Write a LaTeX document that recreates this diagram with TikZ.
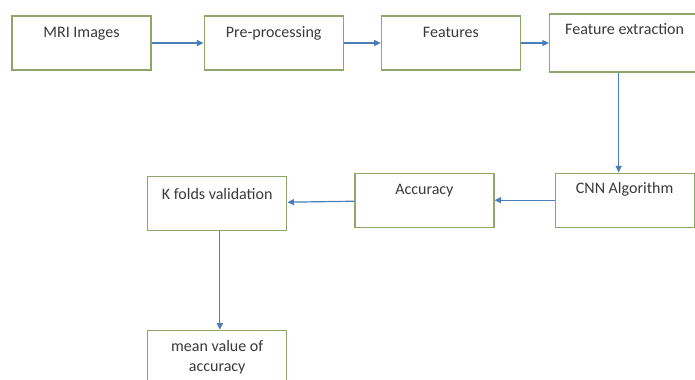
\documentclass[tikz,border=0pt]{standalone}
\usepackage{fontspec}
\setmainfont{Carlito}
\usetikzlibrary{positioning, arrows.meta}

\definecolor{boxline}{HTML}{8FA66A}
\definecolor{arrowblue}{HTML}{4A7EBB}
\definecolor{textgrey}{HTML}{3A3A3A}

\begin{document}
\begin{tikzpicture}[
    stepbox/.style={rectangle, draw=boxline, line width=0.9pt, fill=white,
        minimum width=104.25pt, minimum height=40.5pt,
        text=textgrey, font=\fontsize{12}{15}\selectfont,
        text height=9pt, text depth=17pt, align=center},
    flow/.style={-{Triangle[length=5pt, width=4.5pt]}, arrowblue, line width=0.9pt}
]

% fixed page size (695 x 379 px)
\useasboundingbox (0,0) rectangle (521.25pt,-284.25pt);

% Top row
\node[stepbox] (mri) at (61.125pt,-32.25pt) {MRI Images};
\node[stepbox, right=39pt of mri] (prep) {Pre-processing};
\node[stepbox, right=27.75pt of prep] (feat) {Features};
\node[stepbox, right=21pt of feat, minimum width=112.5pt,
      minimum height=43.5pt, text depth=22.5pt] (fext) {Feature extraction};

% Second row (right to left)
\node[stepbox, below=75pt of fext, text depth=19.5pt] (cnn) {CNN Algorithm};
\node[stepbox, left=45pt of cnn, text depth=18pt] (acc) {Accuracy};
\node[stepbox, left=50.25pt of acc, yshift=-2.25pt, text depth=15pt] (kfold) {K folds validation};

% Result
\node[stepbox, below=74.25pt of kfold, text height=, text depth=] (mean) {mean value of\\accuracy};

% Connectors
\draw[flow] (mri) -- (prep);
\draw[flow] (prep) -- (feat);
\draw[flow] (feat) -- (fext);
\draw[flow] ([xshift=-4.5pt]fext.south) -- ([xshift=-4.5pt]cnn.north);
\draw[flow] (cnn) -- (acc);
\draw[flow] (acc) -- (kfold);
\draw[flow] ([xshift=2pt]kfold.south) -- ([xshift=2pt]mean.north);

\end{tikzpicture}
\end{document}
